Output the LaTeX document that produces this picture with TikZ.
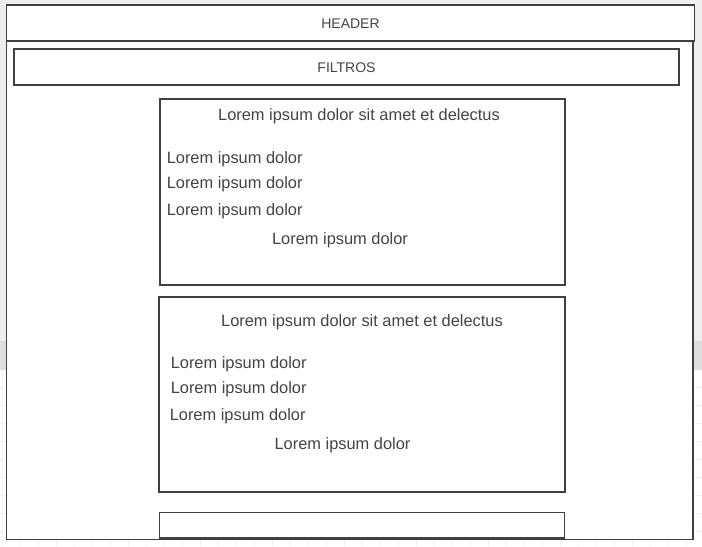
\documentclass[tikz,border=0pt]{standalone}
\usepackage{fontspec}
\setmainfont{Liberation Sans}
\begin{document}
\begin{tikzpicture}[x=0.75pt,y=-0.75pt,
  box/.style={draw=linec,line width=0.8pt,fill=white},
  txt/.style={text=textc,font=\fontsize{12.3}{14}\selectfont,inner sep=0pt},
  small/.style={text=textc,font=\fontsize{10.5}{12}\selectfont,inner sep=0pt}]
\definecolor{linec}{HTML}{404040}
\definecolor{textc}{HTML}{444444}
\definecolor{bgtop}{HTML}{EEEEEE}
\definecolor{band}{HTML}{DDDDDD}
\definecolor{gridc}{HTML}{F0F0F0}
\useasboundingbox (0,0) rectangle (702,546);
\fill[bgtop] (0,0) rectangle (702,341);
\fill[band] (0,341) rectangle (702,370);
\fill[white] (0,370) rectangle (702,546);
\foreach \gx in {2,20,...,702} \draw[gridc,line width=0.6pt] (\gx,370) -- (\gx,546);
\foreach \gy in {387,405,...,546} \draw[gridc,line width=0.6pt] (0,\gy) -- (702,\gy);
\draw[box] (6.5,5) rectangle (693,539.5);
\draw[box] (6.5,5) rectangle (694.5,41);
\node[small] (header) at (350.5,24) {HEADER};
\draw[box] (14,49) rectangle (679,85);
\node[small] (filtros) at (346.5,68) {FILTROS};
\draw[box] (160,99) rectangle (565,285);
\node[txt] (c1t) at (359,116.5) {Lorem ipsum dolor sit amet et delectus};
\node[txt,anchor=west] (c1a) at (166.5,159) {Lorem ipsum dolor};
\node[txt,anchor=west] (c1b) at (166.5,184) {Lorem ipsum dolor};
\node[txt,anchor=west] (c1c) at (166.5,211) {Lorem ipsum dolor};
\node[txt] (c1d) at (340,240) {Lorem ipsum dolor};
\draw[box] (159,297) rectangle (565,492);
\node[txt] (c2t) at (362,322) {Lorem ipsum dolor sit amet et delectus};
\node[txt,anchor=west] (c2a) at (170.5,364) {Lorem ipsum dolor};
\node[txt,anchor=west] (c2b) at (170.5,389) {Lorem ipsum dolor};
\node[txt,anchor=west] (c2c) at (169.5,416) {Lorem ipsum dolor};
\node[txt] (c2d) at (342.5,445) {Lorem ipsum dolor};
\draw[box] (159.5,512.5) rectangle (564.5,538);
\end{tikzpicture}
\end{document}
